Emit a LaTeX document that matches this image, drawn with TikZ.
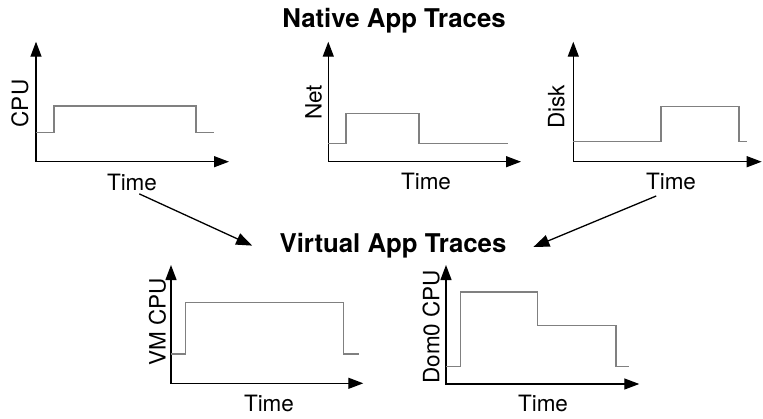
\documentclass[tikz,border=0pt]{standalone}
\usepackage{fontspec}
\setmainfont{TeX Gyre Heros}
\usepackage{xcolor}
\usepackage{tikz}
\usetikzlibrary{arrows.meta}
\definecolor{tracegray}{RGB}{128,128,128}

\begin{document}
\begin{tikzpicture}[x=1pt,y=-1pt]
% Define styles
\tikzstyle{heading} = [inner sep=0pt, anchor=base, font=\fontsize{25.8}{30}\selectfont\bfseries]
\tikzstyle{axislabel} = [inner sep=0pt, anchor=base, font=\fontsize{22.5}{27}\selectfont]
\tikzstyle{axis} = [line width=1.3pt, {Triangle[length=15pt,width=11pt]}-{Triangle[length=15pt,width=11pt]}]
\tikzstyle{trace} = [line width=1.3pt, tracegray]
\tikzstyle{link} = [line width=1.3pt, -{Triangle[length=16pt,width=12pt]}]
\useasboundingbox (0,0) rectangle (763,418);
% Define nodes
\node[heading] (native) at (394,27.3) {Native App Traces};
\node[heading] (virtual) at (393,252.3) {Virtual App Traces};
\node[axislabel, rotate=90] (cpu_y) at (28,103.5) {CPU};
\node[axislabel, rotate=90] (net_y) at (321.7,102.5) {Net};
\node[axislabel, rotate=90] (disk_y) at (564.3,106.7) {Disk};
\node[axislabel, rotate=90] (vmcpu_y) at (165.7,322) {VM CPU};
\node[axislabel, rotate=90] (dom0_y) at (439.3,326.7) {Dom0 CPU};
\node[axislabel] (cpu_t) at (132,190) {Time};
\node[axislabel] (net_t) at (426,189.3) {Time};
\node[axislabel] (disk_t) at (671,189.3) {Time};
\node[axislabel] (vmcpu_t) at (269,411.7) {Time};
\node[axislabel] (dom0_t) at (543,411.7) {Time};
% Axes
\draw[axis] (36,41.7) -- (36,161.7) -- (229,161.7);
\draw[axis] (328.3,41.7) -- (328.3,161.7) -- (521,161.7);
\draw[axis] (573.3,41.7) -- (573.3,161.7) -- (761.7,161.7);
\draw[axis] (171,265) -- (171,383.3) -- (363.3,383.3);
\draw[axis] (446,265) -- (446,384) -- (639.3,384);
% Traces
\draw[trace] (36,132.7) -- (54,132.7) -- (54,106) -- (196,106) -- (196,132.7) -- (214,132.7);
\draw[trace] (328.3,143.5) -- (346,143.5) -- (346,113.3) -- (419,113.3) -- (419,143.5) -- (508,143.5);
\draw[trace] (573.3,141.5) -- (661,141.5) -- (661,106.7) -- (739,106.7) -- (739,141.5) -- (747,141.5);
\draw[trace] (171,354) -- (185.7,354) -- (185.7,302.7) -- (343.3,302.7) -- (343.3,354) -- (359.3,354);
\draw[trace] (446,366.7) -- (460.3,366.7) -- (460.3,292) -- (537.7,292) -- (537.7,325.3) -- (616,325.3) -- (616,366.7) -- (628.7,366.7);
% Connect the nodes
\draw[link, shorten <=8pt, shorten >=30pt] (cpu_t.south) -- (virtual.south west);
\draw[link, shorten <=16pt, shorten >=29pt] (disk_t.south) -- (virtual.south east);

\end{tikzpicture}
\end{document}
